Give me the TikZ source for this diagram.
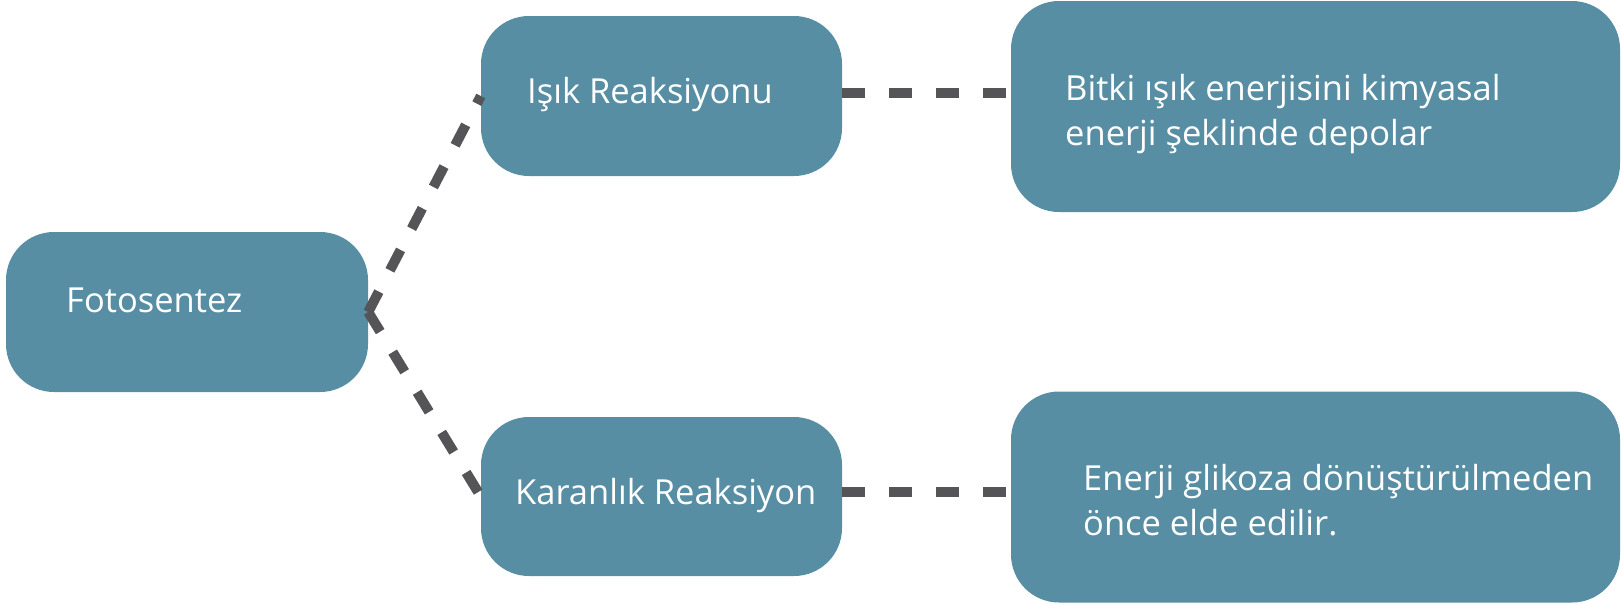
\documentclass[tikz,border=0pt]{standalone}
\usepackage{fontspec}
\setmainfont{Open Sans}
\definecolor{boxblue}{RGB}{87,142,164}
\definecolor{linegray}{RGB}{85,85,88}
\begin{document}
\begin{tikzpicture}[x=1pt,y=-1pt,
  box/.style={fill=boxblue, draw=none, rounded corners=48pt, inner sep=0pt},
  lbl/.style={text=white, font=\fontsize{34.5}{45}\selectfont, anchor=base west, inner sep=0pt, align=left},
  conn/.style={draw=linegray, line width=10pt, dash pattern=on 23pt off 24pt}]
\useasboundingbox (0,0) rectangle (1621,603);
\node[box, minimum width=362pt, minimum height=160pt] (fot) at (187,312) {};
\node[box, minimum width=361pt, minimum height=160pt] (isik) at (661.5,96) {};
\node[box, minimum width=361pt, minimum height=159pt] (kar) at (661.5,496.5) {};
\node[box, minimum width=609pt, minimum height=211pt] (r1) at (1315.5,106.5) {};
\node[box, minimum width=609pt, minimum height=211pt] (r2) at (1315.5,497) {};
\node[lbl] (tfot) at (66,312) {Fotosentez};
\node[lbl] (tisik) at (527,103) {Işık Reaksiyonu};
\node[lbl] (tkar) at (515,504) {Karanlık Reaksiyon};
\node[lbl] (tr1) at (1065,145) {Bitki ışık enerjisini kimyasal\\enerji şeklinde depolar};
\node[lbl] (tr2) at (1083,535) {Enerji glikoza dönüştürülmeden\\önce elde edilir.};
\draw[conn] (fot.east) -- (isik.west);
\draw[conn] (fot.east) -- (kar.west);
\draw[conn] ([yshift=3pt]isik.east) -- ([yshift=3pt]isik.east -| r1.west);
\draw[conn] ([yshift=5pt]kar.east) -- ([yshift=5pt]kar.east -| r2.west);
\end{tikzpicture}
\end{document}
